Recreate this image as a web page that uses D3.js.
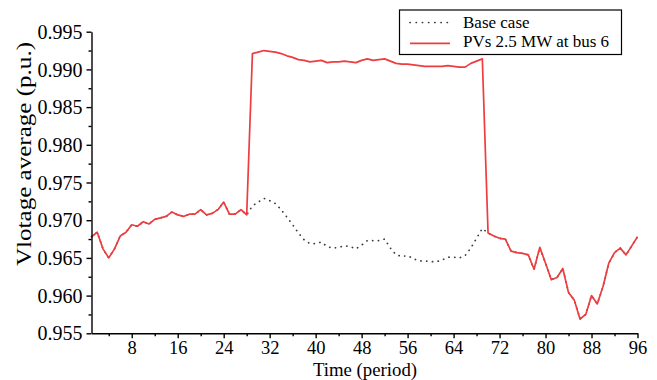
<!DOCTYPE html>
<html><head><meta charset="utf-8">
<script src="https://cdn.jsdelivr.net/npm/d3@7"></script>
<style>
html,body{margin:0;padding:0;background:#fff;}
svg{display:block;font-family:"Liberation Serif","Times New Roman",serif;}
</style></head>
<body><svg id="chart" width="657" height="380"></svg>
<script>
const periods = d3.range(1, 97);
const pvValues = [
0.9678,0.9684,0.9662,0.9650,0.9662,0.9679,0.9684,0.9694,0.9692,0.9698,
0.9695,0.9701,0.9703,0.9705,0.9711,0.9707,0.9705,0.9708,0.9708,0.9714,
0.9707,0.9709,0.9714,0.9724,0.9708,0.9708,0.9714,0.9707,0.9921,0.9923,
0.9925,0.9924,0.9923,0.9921,0.9918,0.9916,0.9913,0.9912,0.9910,0.9911,
0.9912,0.9909,0.9910,0.9910,0.9911,0.9910,0.9909,0.9912,0.9914,0.9912,
0.9913,0.9914,0.9911,0.9908,0.9907,0.9907,0.9906,0.9905,0.9904,0.9904,
0.9904,0.9904,0.9905,0.9904,0.9903,0.9903,0.9908,0.9911,0.9914,0.9683,
0.9679,0.9676,0.9675,0.9659,0.9657,0.9656,0.9654,0.9635,0.9664,0.9643,
0.9621,0.9624,0.9636,0.9604,0.9594,0.9569,0.9575,0.9600,0.9589,0.9612,
0.9643,0.9657,0.9663,0.9654,0.9666,0.9678];
const baseValues = [
0.9678,0.9684,0.9662,0.9650,0.9662,0.9679,0.9684,0.9694,0.9692,0.9698,
0.9695,0.9701,0.9703,0.9705,0.9711,0.9707,0.9705,0.9708,0.9708,0.9714,
0.9707,0.9709,0.9714,0.9724,0.9708,0.9708,0.9714,0.9707,0.9719,0.9724,
0.9729,0.9726,0.9722,0.9714,0.9704,0.9694,0.9683,0.9674,0.9669,0.9669,
0.9671,0.9665,0.9663,0.9664,0.9666,0.9665,0.9662,0.9667,0.9673,0.9673,
0.9673,0.9675,0.9663,0.9654,0.9652,0.9653,0.9649,0.9646,0.9646,0.9645,
0.9645,0.9647,0.9651,0.9651,0.9650,0.9653,0.9663,0.9676,0.9689,0.9683,
0.9679,0.9676,0.9675,0.9659,0.9657,0.9656,0.9654,0.9635,0.9664,0.9643,
0.9621,0.9624,0.9636,0.9604,0.9594,0.9569,0.9575,0.9600,0.9589,0.9612,
0.9643,0.9657,0.9663,0.9654,0.9666,0.9678];
const xTicks = [8,16,24,32,40,48,56,64,72,80,88,96];
const xMinorTicks = [4,12,20,28,36,44,52,60,68,76,84,92];
const yTicks = [0.955,0.960,0.965,0.970,0.975,0.980,0.985,0.990,0.995];
const yMinorTicks = [0.9575,0.9625,0.9675,0.9725,0.9775,0.9825,0.9875,0.9925];
const seriesNames = ["Base case", "PVs 2.5 MW at bus 6"];
const xTitle = "Time (period)";
const yTitle = "Vlotage average (p.u.)";

const svg = d3.select("#chart");
const x = d3.scaleLinear().domain([1, 96]).range([91.5, 637.5]);
const y = d3.scaleLinear().domain([0.955, 0.995]).range([333.3, 31.7]);
const RED = "#ee3c3f";
const FONT = '"Liberation Serif","Times New Roman",serif';

const line = d3.line().x((d,i) => x(periods[i])).y(d => y(d));

// base case (dotted) drawn first
svg.append("path").datum(baseValues)
  .attr("d", line).attr("fill","none")
  .attr("stroke","#3a3a3a").attr("stroke-width",1.7)
  .attr("stroke-linecap","round")
  .attr("stroke-dasharray","0.2,5.6");

svg.append("path").datum(pvValues)
  .attr("d", line).attr("fill","none")
  .attr("stroke",RED).attr("stroke-width",1.7)
  .attr("stroke-linejoin","round");

// axes
const gx = svg.append("g").attr("transform","translate(0,333.3)");
gx.call(d3.axisBottom(x).tickValues(xTicks).tickSize(5).tickSizeOuter(0).tickPadding(3));
gx.append("g").call(d3.axisBottom(x).tickValues(xMinorTicks).tickSize(3).tickFormat("").tickSizeOuter(0))
  .select(".domain").remove();
const gy = svg.append("g").attr("transform","translate(91.5,0)");
gy.call(d3.axisLeft(y).tickValues(yTicks).tickSize(5).tickSizeOuter(0).tickPadding(4).tickFormat(d3.format(".3f")));
gy.append("g").call(d3.axisLeft(y).tickValues(yMinorTicks).tickSize(3).tickFormat("").tickSizeOuter(0))
  .select(".domain").remove();
svg.selectAll(".domain").attr("stroke","#000").attr("stroke-width",1.4);
svg.selectAll(".tick line").attr("stroke","#000").attr("stroke-width",1.4);
svg.selectAll(".tick text").attr("font-family",FONT).attr("fill","#000");
gx.selectAll(".tick text").attr("font-size",18.5);
gy.selectAll(".tick text").attr("font-size",20).attr("dy","0.33em");

svg.append("text").attr("x", 365).attr("y", 375.5).attr("text-anchor","middle")
  .attr("font-family",FONT).attr("font-size",18.8).text(xTitle);
svg.append("text").attr("transform","translate(31,154) rotate(-90)")
  .attr("text-anchor","middle").attr("font-family",FONT).attr("font-size",22)
  .attr("textLength",224).attr("lengthAdjust","spacingAndGlyphs").text(yTitle);

// legend
const lg = svg.append("g");
lg.append("rect").attr("x",399.5).attr("y",10).attr("width",222).attr("height",44.5)
  .attr("fill","#fff").attr("stroke","#000").attr("stroke-width",1.2);
lg.append("line").attr("x1",410).attr("x2",450).attr("y1",22.5).attr("y2",22.5)
  .attr("stroke","#3a3a3a").attr("stroke-width",1.7).attr("stroke-linecap","round").attr("stroke-dasharray","0.2,6");
lg.append("line").attr("x1",410).attr("x2",450).attr("y1",43.3).attr("y2",43.3)
  .attr("stroke",RED).attr("stroke-width",1.7);
lg.append("text").attr("x",463).attr("y",27.5).attr("font-family",FONT).attr("font-size",17).text(seriesNames[0]);
lg.append("text").attr("x",463).attr("y",47).attr("font-family",FONT).attr("font-size",17).text(seriesNames[1]);
</script></body></html>
